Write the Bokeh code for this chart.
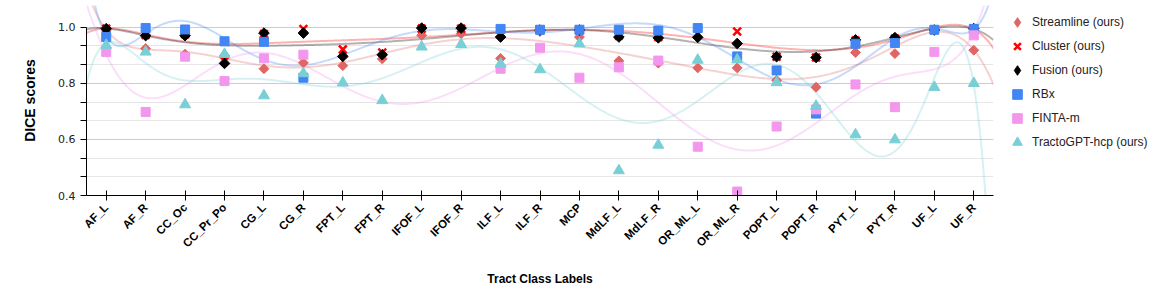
import math
import numpy as np
from bokeh.plotting import figure
from bokeh.layouts import row
from bokeh.models import (Range1d, FixedTicker, PrintfTickFormatter, Legend, LegendItem,
                          Title, ColumnDataSource)
from bokeh.embed import file_html
from bokeh.resources import INLINE

nan = float("nan")

categories = ["AF_L", "AF_R", "CC_Oc", "CC_Pr_Po", "CG_L", "CG_R", "FPT_L", "FPT_R",
              "IFOF_L", "IFOF_R", "ILF_L", "ILF_R", "MCP", "MdLF_L", "MdLF_R",
              "OR_ML_L", "OR_ML_R", "POPT_L", "POPT_R", "PYT_L", "PYT_R", "UF_L", "UF_R"]

streamline = [0.990, 0.924, 0.904, 0.900, 0.852, 0.873, 0.863, 0.887, 0.971, 0.977, 0.889, 0.985,
              0.965, 0.880, 0.872, 0.855, 0.855, 0.811, 0.786, 0.910, 0.906, 0.990, 0.918]
cluster = [0.995, 0.972, 0.975, 0.880, 0.976, 0.994, 0.921, 0.910, 0.995, 0.995, 0.976, 0.990,
           0.990, 0.970, 0.965, 0.976, 0.985, 0.895, 0.892, 0.953, 0.960, 0.990, 0.995]
fusion = [0.995, 0.970, 0.970, 0.871, 0.979, 0.979, 0.896, 0.902, 0.997, 0.997, 0.965, 0.990,
          0.990, 0.965, 0.962, 0.964, 0.942, 0.895, 0.892, 0.955, 0.963, 0.990, 0.995]
rbx = [0.965, 0.997, 0.992, 0.950, 0.948, 0.820, nan, nan, nan, nan, 0.994, 0.991,
       0.991, 0.991, 0.988, 0.997, 0.896, 0.846, 0.692, 0.941, 0.944, 0.991, 0.994]
finta = [0.912, 0.698, 0.895, 0.808, 0.889, 0.902, nan, nan, nan, nan, 0.852, 0.927,
         0.820, 0.857, 0.881, 0.574, 0.414, 0.646, 0.707, 0.796, 0.715, 0.912, 0.971]
tracto = [0.936, 0.912, 0.724, 0.904, 0.756, 0.835, 0.802, 0.739, 0.930, 0.939, 0.869, 0.849,
          0.941, 0.489, 0.580, 0.883, 0.884, 0.803, 0.719, 0.617, 0.599, 0.786, 0.800]

series_names = ["Streamline (ours)", "Cluster (ours)", "Fusion (ours)", "RBx", "FINTA-m",
                "TractoGPT-hcp (ours)"]
series_values = [streamline, cluster, fusion, rbx, finta, tracto]
colors = ["#e06666", "#ff0000", "#000000", "#4285f4", "#f396ee", "#78cfd6"]
trend_degree = 10

n = len(categories)
xs = np.arange(n, dtype=float)

W, H = 1000, 298
p = figure(width=W, height=H, output_backend="svg", toolbar_location=None,
           x_range=Range1d(-0.5, n - 0.5), y_range=Range1d(0.4, 1.0775),
           min_border_left=86, min_border_right=W - 993, min_border_top=0,
           min_border_bottom=H - 195)
p.outline_line_color = None
p.background_fill_color = "white"
p.border_fill_color = "white"

# trend lines (polynomial fit of each series)
t = np.linspace(-0.5, n - 0.5, 700)
for vals, col in zip(series_values, colors):
    v = np.array(vals, dtype=float)
    m = ~np.isnan(v)
    u = (xs[m] - (n - 1) / 2) / ((n - 1) / 2)
    c = np.polyfit(u, v[m], trend_degree)
    yy = np.polyval(c, (t - (n - 1) / 2) / ((n - 1) / 2))
    p.line(t, yy, line_color=col, line_alpha=0.3, line_width=2)


def add_markers(fig, name, x, y, col):
    src = ColumnDataSource(dict(x=x, y=y))
    if name.startswith("Streamline"):
        return fig.scatter("x", "y", source=src, marker="square", angle=math.pi / 4, size=7,
                           fill_color=col, line_color=col)
    if name.startswith("Cluster"):
        return fig.scatter("x", "y", source=src, marker="x", size=11, line_color=col,
                           line_width=2.5)
    if name.startswith("Fusion"):
        return fig.scatter("x", "y", source=src, marker="square", angle=math.pi / 4,
                           size=7.5, fill_color=col, line_color=col)
    if name.startswith("Tracto"):
        return fig.scatter("x", "y", source=src, marker="triangle", size=11,
                           fill_color=col, line_color=col)
    return fig.scatter("x", "y", source=src, marker="square", size=9,
                       fill_color=col, line_color=col)


for name, vals, col in zip(series_names, series_values, colors):
    add_markers(p, name, xs, np.array(vals, dtype=float), col)

# axes
xa = p.xaxis[0]
xa.ticker = FixedTicker(ticks=list(range(n)), minor_ticks=[])
xa.major_label_overrides = {i: c for i, c in enumerate(categories)}
xa.major_label_orientation = math.pi / 4
xa.major_label_text_font = "Liberation Sans"
xa.major_label_text_font_style = "bold"
xa.major_label_text_font_size = "11.5px"
xa.major_label_text_color = "#000000"
xa.major_tick_in = 5
xa.major_tick_out = 5
xa.axis_line_color = "#000000"
xa.major_tick_line_color = "#000000"
xa.axis_label = "Tract Class Labels"
xa.axis_label_text_font = "Liberation Sans"
xa.axis_label_text_font_size = "12px"
xa.axis_label_text_font_style = "bold"
xa.axis_label_text_color = "#000000"
xa.axis_label_standoff = 15

ya = p.yaxis[0]
yticks = FixedTicker(ticks=[0.4, 0.6, 0.8, 1.0],
                     minor_ticks=[0.4667, 0.5333, 0.6667, 0.7333, 0.8667, 0.9333])
ya.ticker = yticks
ya.formatter = PrintfTickFormatter(format="%.1f")
ya.bounds = (0.4, 1.0)
ya.major_tick_in = 0
ya.major_tick_out = 6
ya.minor_tick_in = 0
ya.minor_tick_out = 6
ya.axis_line_color = "#000000"
ya.major_tick_line_color = "#000000"
ya.minor_tick_line_color = "#000000"
ya.major_label_text_font = "DejaVu Sans"
ya.major_label_text_font_size = "11px"
ya.major_label_text_color = "#222222"
ya.major_label_standoff = 5

p.xgrid.grid_line_color = None
p.ygrid.ticker = yticks
p.ygrid.grid_line_color = "#cccccc"
p.ygrid.minor_grid_line_color = "#e6e6e6"
p.ygrid.bounds = (0.4, 1.0)

ytitle = Title(text="DICE scores", align="center", offset=-14, standoff=36,
               text_font="Liberation Sans", text_font_size="14px", text_font_style="bold",
               text_color="#000000")
p.add_layout(ytitle, "left")

# legend in its own narrow figure to the right of the plot
lg = figure(width=160, height=H, output_backend="svg", toolbar_location=None,
            x_axis_type=None, y_axis_type=None, x_range=Range1d(0, 1), y_range=Range1d(0, 1),
            min_border_left=0, min_border_right=0, min_border_top=5, min_border_bottom=0)
lg.outline_line_color = None
lg.grid.grid_line_color = None
items = []
for name, col in zip(series_names, colors):
    if name.startswith("Streamline") or name.startswith("Fusion"):
        r = lg.scatter([nan], [nan], marker="diamond", fill_color=col, line_color=col)
    else:
        r = add_markers(lg, name, [nan], [nan], col)
    items.append(LegendItem(label=name, renderers=[r]))
legend = Legend(items=items, location="top_left", margin=5, padding=0, spacing=0,
                glyph_width=24, glyph_height=24, label_height=24, label_standoff=3,
                label_text_font="Liberation Sans", label_text_font_size="12px",
                label_text_color="#222222", border_line_color=None, background_fill_alpha=0)
lg.add_layout(legend)

open("out.html", "w").write(file_html(row(p, lg), INLINE))
